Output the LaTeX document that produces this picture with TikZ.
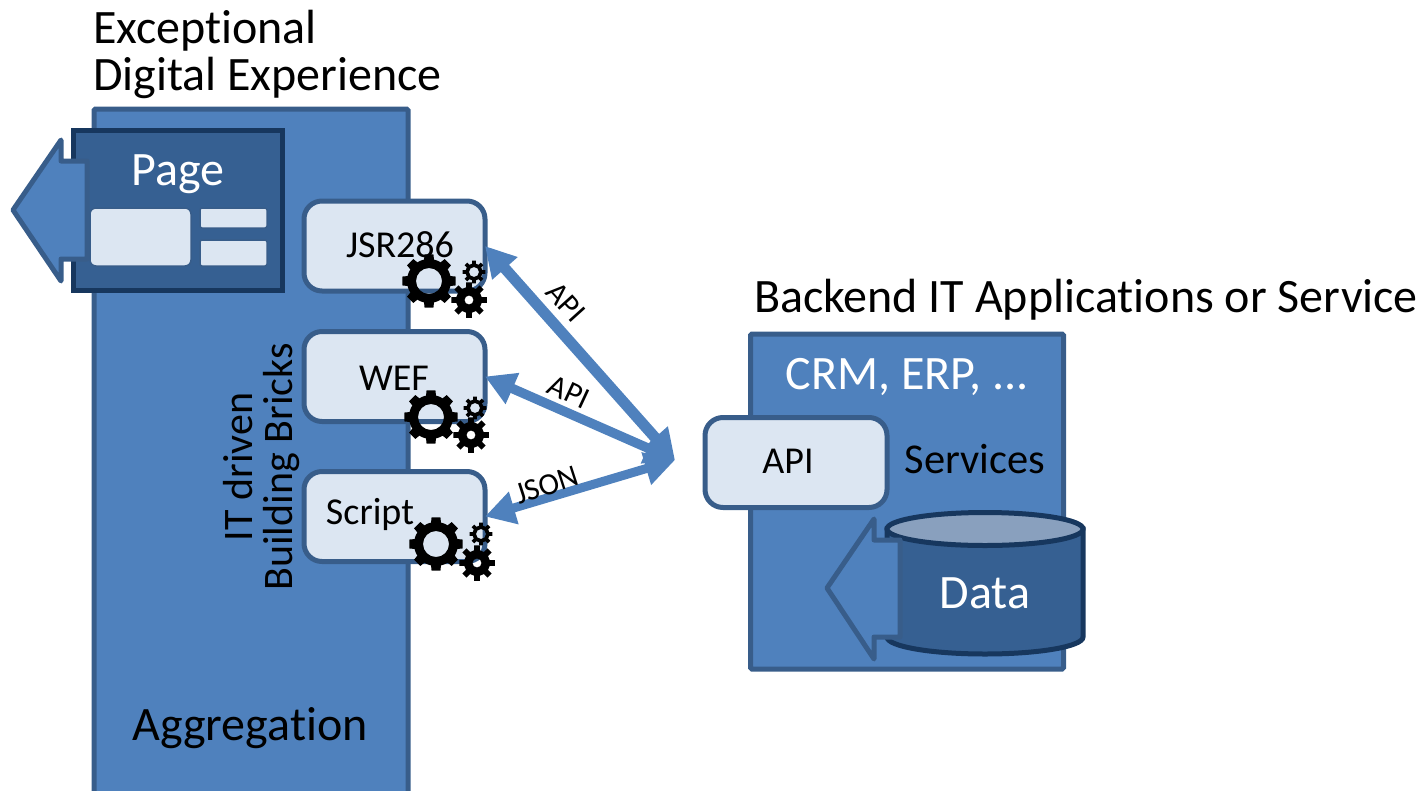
\documentclass[tikz,border=0pt]{standalone}
\usepackage{fontspec}
\setmainfont{Carlito}[Ligatures=CommonOff]
\usetikzlibrary{arrows.meta}
\definecolor{mid}{HTML}{4F81BD}
\definecolor{edge}{HTML}{385D8A}
\definecolor{deep}{HTML}{366092}
\definecolor{deepedge}{HTML}{17375E}
\definecolor{pale}{HTML}{DCE6F2}
\definecolor{lid}{HTML}{89A0BE}
\tikzset{
  x=1pt,y=-1pt,
  panel/.style={rectangle,draw=edge,fill=mid,line width=5pt,outer sep=0pt,inner sep=0pt,rounded corners=1.5pt},
  brick/.style={rectangle,draw=edge,fill=pale,line width=5pt,rounded corners=18pt,minimum width=181pt,minimum height=90pt,outer sep=0pt,inner sep=0pt},
  tile/.style={rectangle,draw=edge,fill=pale,line width=1.5pt,outer sep=0pt,inner sep=0pt},
  blockarrow/.style={draw=edge,fill=mid,line width=5pt,line join=round},
  title/.style={font=\fontsize{48}{56}\selectfont,inner sep=0pt,outer sep=0pt},
  bricklabel/.style={font=\fontsize{38}{44}\selectfont,inner sep=0pt,outer sep=0pt},
  tag/.style={font=\fontsize{31}{36}\selectfont,inner sep=0pt,outer sep=0pt},
  link/.style={draw=mid,line width=11pt,{Triangle[length=30pt,width=32pt]}-{Triangle[length=30pt,width=32pt]}},
}
% \gearat{x}{y}{outer}{body}{hole}
\newcommand{\gearat}[5]{%
  \fill[black,even odd rule,shift={(#1,#2)}]
    (-13:#4)
    \foreach \a in {0,45,...,315}{
      -- ({\a-9.5}:#3) -- ({\a+9.5}:#3) -- ({\a+13}:#4) arc[start angle={\a+13},end angle={\a+32},radius=#4]
    } -- cycle
    (#5,0) arc[start angle=0,end angle=360,radius=#5];
}
\begin{document}
\begin{tikzpicture}
\useasboundingbox (0,0) rectangle (1420,790);
% left block
\node[panel,minimum width=314pt,minimum height=700pt,anchor=north west] (aggr) at (94,109) {};
% page
\node[rectangle,draw=deepedge,fill=deep,line width=5pt,minimum width=209pt,minimum height=160pt,anchor=north west,outer sep=0pt,inner sep=0pt] (page) at (73,130) {};
\draw[blockarrow] (13,210) -- (61,140) -- (61,161) -- (87,161) -- (87,259) -- (61,259) -- (61,281) -- cycle;
\node[tile,rounded corners=6pt,minimum width=101pt,minimum height=58pt,anchor=north west,draw=edge] (pagemain) at (90,208) {};
\node[tile,rounded corners=2pt,minimum width=67pt,minimum height=20pt,anchor=north west] (pagetop) at (200,208) {};
\node[tile,rounded corners=2pt,minimum width=67pt,minimum height=26pt,anchor=north west] (pagebot) at (200,240) {};
\node[title,text=white] (pagelabel) at (178,174.5) {Page};
% bricks
\node[brick] (jsr) at (394.5,246) {};
\node[brick] (wef) at (394.5,376.5) {};
\node[brick] (script) at (394.5,516.5) {};
\node[bricklabel] (jsrlabel) at (400,245) {JSR286};
\node[bricklabel] (weflabel) at (394,378) {WEF};
\node[bricklabel] (scriptlabel) at (370,514) {Script};
% gears
\gearat{429}{281}{27}{22}{13}
\gearat{469}{300}{18}{13}{4.5}
\gearat{474}{272}{11.5}{8.5}{5}
\gearat{431}{417}{27}{22}{13}
\gearat{471}{435}{18}{13}{4.5}
\gearat{475}{408}{11.5}{8.5}{5}
\gearat{436}{544}{27}{22}{13}
\gearat{477}{563}{18}{13}{4.5}
\gearat{481}{534}{11.5}{8.5}{5}
% titles
\node[title,anchor=west] (t1) at (93,30.5) {Exceptional};
\node[title,anchor=west] (t2) at (93,78) {Digital Experience};
\node[title,anchor=west] (t3) at (754,300) {Backend IT Applications or Service};
\node[title] (aggrlabel) at (250,728) {Aggregation};
\node[font=\fontsize{42}{40}\selectfont,rotate=90,align=center,inner sep=0pt] (bricks) at (261.5,467) {IT driven\\Building Bricks};
% right block
\node[panel,minimum width=313pt,minimum height=335pt,anchor=north west] (backend) at (750.5,334) {};
\node[title,text=white] (crm) at (907,377) {CRM, ERP, ...};
% cylinder
\draw[draw=deepedge,fill=deep,line width=5pt] (887,529) -- (887,637) arc[start angle=180,end angle=0,x radius=98,y radius=17] -- (1083,529) -- cycle;
\draw[draw=deepedge,fill=lid,line width=5pt] (985,529) ellipse[x radius=98,y radius=16.5];
\draw[blockarrow] (827,588) -- (874,519) -- (874,540) -- (900,540) -- (900,637) -- (874,637) -- (874,659) -- cycle;
\node[title,text=white] (data) at (985,593) {Data};
% api
\node[brick,minimum width=182pt] (api) at (796,462.5) {};
\node[bricklabel] (apilabel) at (788,461) {API};
\node[font=\fontsize{42.5}{48}\selectfont,inner sep=0pt] (services) at (975,459) {Services};
% connectors
\coordinate (hub) at (675,460);
\draw[link] (jsr.east) -- (hub);
\draw[link,line width=9.5pt] (wef.east) -- (hub);
\draw[link,line width=9pt] (script.east) -- (hub);
\node[tag,rotate=-48] (l1) at (566,302) {API};
\node[tag,rotate=-25] (l2) at (569,392) {API};
\node[tag,rotate=18] (l3) at (547,485) {JSON};
\end{tikzpicture}
\end{document}
